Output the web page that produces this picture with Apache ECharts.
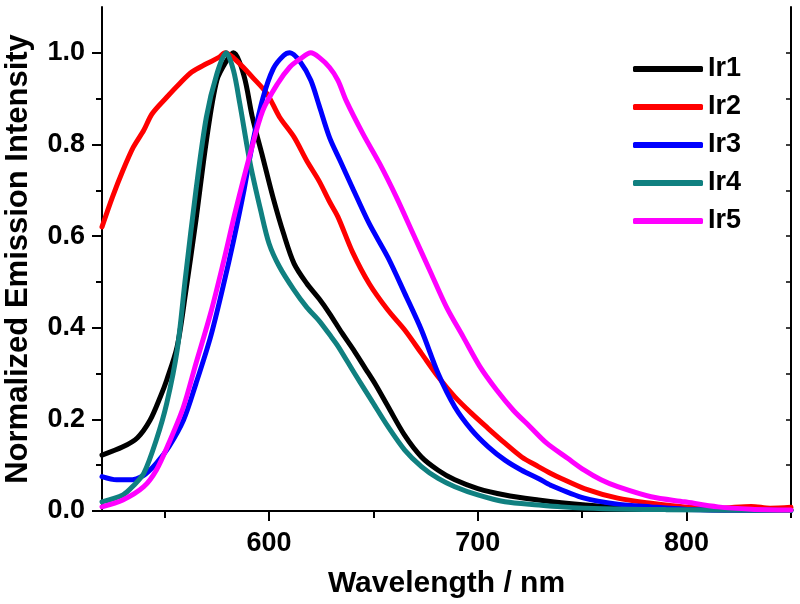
<!DOCTYPE html>
<html>
<head>
<meta charset="utf-8">
<script src="https://cdn.jsdelivr.net/npm/echarts@6/dist/echarts.min.js"></script>
<style>
html,body{margin:0;padding:0;background:#fff;}
#chart{width:800px;height:604px;}
</style>
</head>
<body>
<div id="chart"></div>
<script>
// Data: [wavelength (nm), normalized intensity]
const seriesNames = ['Ir1', 'Ir2', 'Ir3', 'Ir4', 'Ir5'];
const ir1 = [[520,0.122],[530,0.14],[537,0.16],[543,0.198],[548,0.25],[551,0.286],[556,0.359],[560,0.475],[565,0.635],[570,0.808],[575,0.94],[580,0.985],[583,1.0],[588,0.95],[592,0.86],[597,0.772],[602,0.683],[607,0.605],[612,0.54],[618,0.497],[624,0.463],[629,0.431],[635,0.388],[641,0.348],[646,0.312],[651,0.276],[657,0.228],[665,0.165],[673,0.118],[681,0.089],[689,0.068],[700,0.049],[713,0.035],[729,0.024],[740,0.018],[760,0.01],[780,0.006],[800,0.004],[830,0.002],[850,0.002]];
const ir2 = [[520,0.62],[525,0.685],[530,0.743],[535,0.794],[540,0.831],[544,0.867],[551,0.903],[557,0.932],[563,0.958],[570,0.976],[576,0.99],[579,1.0],[586,0.976],[592,0.947],[599,0.911],[605,0.86],[612,0.816],[618,0.765],[624,0.72],[629,0.675],[633,0.642],[640,0.565],[648,0.496],[657,0.438],[665,0.395],[673,0.344],[681,0.293],[689,0.249],[697,0.213],[705,0.18],[713,0.148],[721,0.118],[729,0.097],[735,0.082],[740,0.071],[751,0.049],[767,0.028],[783,0.017],[799,0.009],[815,0.006],[831,0.01],[840,0.006],[850,0.008]];
const ir3 = [[520,0.075],[527,0.068],[533,0.068],[540,0.078],[546,0.104],[552,0.14],[559,0.198],[565,0.278],[572,0.38],[578,0.49],[583,0.59],[588,0.70],[592,0.80],[597,0.90],[602,0.965],[607,0.994],[610,1.0],[615,0.98],[620,0.94],[624,0.885],[629,0.815],[634,0.765],[640,0.705],[648,0.627],[657,0.553],[665,0.475],[673,0.395],[681,0.30],[689,0.227],[697,0.177],[705,0.14],[713,0.111],[721,0.089],[729,0.071],[735,0.056],[751,0.028],[767,0.015],[783,0.009],[799,0.004],[820,0.002],[850,0.001]];
const ir4 = [[520,0.02],[530,0.035],[535,0.055],[540,0.082],[546,0.155],[551,0.235],[556,0.351],[560,0.511],[565,0.70],[570,0.86],[575,0.954],[579.5,1.0],[583,0.961],[586,0.889],[591,0.758],[596,0.656],[600,0.584],[605,0.533],[612,0.482],[618,0.445],[624,0.415],[629,0.385],[633,0.36],[641,0.30],[649,0.242],[657,0.184],[665,0.133],[673,0.097],[681,0.071],[689,0.053],[700,0.035],[713,0.02],[729,0.013],[740,0.009],[760,0.005],[790,0.003],[850,0.001]];
const ir5 = [[520,0.009],[530,0.024],[540,0.053],[546,0.089],[552,0.148],[559,0.227],[565,0.322],[572,0.431],[578,0.54],[584,0.656],[591,0.78],[597,0.874],[604,0.932],[610,0.969],[615,0.987],[620,1.0],[624,0.99],[629,0.968],[633,0.94],[637,0.895],[645,0.823],[653,0.758],[661,0.685],[669,0.605],[677,0.525],[685,0.445],[693,0.38],[701,0.315],[709,0.264],[717,0.22],[725,0.184],[733,0.148],[743,0.115],[751,0.089],[759,0.068],[767,0.053],[783,0.031],[799,0.02],[815,0.009],[831,0.004],[850,0.002]];
const seriesData = [ir1, ir2, ir3, ir4, ir5];
const colors = ['#000000', '#ff0000', '#0000ff', '#108080', '#ff00ff'];

// Axis ticks and labels
const xMajorTicks = [600, 700, 800];
const xMinorTicks = [550, 650, 750, 850];
const xAllTicks = [550, 600, 650, 700, 750, 800, 850];
const yMajorTicks = [0, 0.2, 0.4, 0.6, 0.8, 1.0];
const yMinorTicks = [0.1, 0.3, 0.5, 0.7, 0.9];
const yAllTicks = [0, 0.1, 0.2, 0.3, 0.4, 0.5, 0.6, 0.7, 0.8, 0.9, 1.0];

const FONT = "'Liberation Sans', Arial, sans-serif";
const axisLineStyle = {show: true, lineStyle: {color: '#000', width: 2}};

const chart = echarts.init(document.getElementById('chart'), null, {renderer: 'canvas'});
chart.setOption({
  animation: false,
  backgroundColor: '#fff',
  grid: {left: 102, right: 9, top: 7, bottom: 93, containLabel: false, outerBoundsMode: 'none'},
  legend: {
    orient: 'vertical',
    left: 633,
    top: 54,
    padding: 0,
    icon: 'roundRect',
    itemWidth: 70,
    itemHeight: 6,
    itemGap: 8,
    textStyle: {fontFamily: FONT, fontWeight: 'bold', fontSize: 27, color: '#000', lineHeight: 30},
    data: seriesNames
  },
  xAxis: [
    {
      type: 'value', min: 520, max: 850, position: 'bottom',
      axisLine: axisLineStyle,
      axisTick: {show: true, inside: false, length: 10, lineStyle: {width: 2, color: '#000'}, customValues: xMajorTicks},
      axisLabel: {show: true, customValues: xMajorTicks, margin: 19, fontFamily: FONT, fontWeight: 'bold', fontSize: 27, color: '#000'},
      splitLine: {show: false},
      name: 'Wavelength / nm', nameLocation: 'middle', nameGap: 58,
      nameTextStyle: {fontFamily: FONT, fontWeight: 'bold', fontSize: 30, color: '#000'}
    },
    {
      type: 'value', min: 520, max: 850, position: 'bottom',
      axisLine: {show: false},
      axisTick: {show: true, inside: false, length: 7, lineStyle: {width: 2, color: '#000'}, customValues: xMinorTicks},
      axisLabel: {show: false},
      splitLine: {show: false}
    },
    {
      type: 'value', min: 520, max: 850, position: 'top',
      axisLine: axisLineStyle,
      axisTick: {show: true, inside: true, length: 5, lineStyle: {width: 1.5, color: '#000'}, customValues: xAllTicks},
      axisLabel: {show: false},
      splitLine: {show: false}
    }
  ],
  yAxis: [
    {
      type: 'value', min: 0, max: 1.1, position: 'left',
      axisLine: axisLineStyle,
      axisTick: {show: true, inside: false, length: 10, lineStyle: {width: 2, color: '#000'}, customValues: yMajorTicks},
      axisLabel: {show: true, customValues: yMajorTicks, margin: 17, fontFamily: FONT, fontWeight: 'bold', fontSize: 27, color: '#000',
        formatter: v => Number(v).toFixed(1)},
      splitLine: {show: false},
      name: 'Normalized Emission Intensity', nameLocation: 'middle', nameGap: 68,
      nameTextStyle: {fontFamily: FONT, fontWeight: 'bold', fontSize: 31, color: '#000', overflow: 'none', width: 700}
    },
    {
      type: 'value', min: 0, max: 1.1, position: 'left',
      axisLine: {show: false},
      axisTick: {show: true, inside: false, length: 6, lineStyle: {width: 2, color: '#000'}, customValues: yMinorTicks},
      axisLabel: {show: false},
      splitLine: {show: false}
    },
    {
      type: 'value', min: 0, max: 1.1, position: 'right',
      axisLine: axisLineStyle,
      axisTick: {show: true, inside: true, length: 5, lineStyle: {width: 1.5, color: '#000'}, customValues: yAllTicks},
      axisLabel: {show: false},
      splitLine: {show: false}
    }
  ],
  series: seriesNames.map((name, i) => ({
    name: name,
    type: 'line',
    xAxisIndex: 0,
    yAxisIndex: 0,
    data: seriesData[i],
    showSymbol: false,
    symbol: 'none',
    smooth: 0.3,
    color: colors[i],
    itemStyle: {color: colors[i]},
    lineStyle: {color: colors[i], width: 5, cap: 'round', join: 'round'},
    z: 2 + i
  }))
});
</script>
</body>
</html>
